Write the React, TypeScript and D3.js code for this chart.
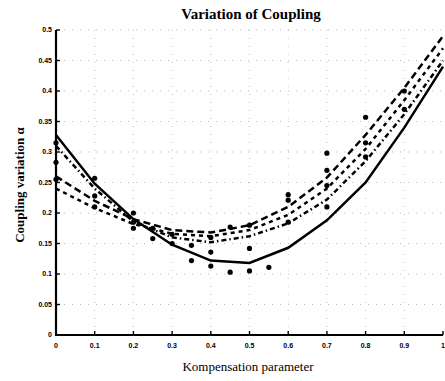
import * as d3 from "d3";

const W = 445;
const H = 381;

// parameter values along the x axis
const kompParam = [0, 0.1, 0.2, 0.3, 0.4, 0.5, 0.6, 0.7, 0.8, 0.9, 1.0];

// fitted curves
const fitSolid = [0.328, 0.248, 0.19, 0.148, 0.122, 0.118, 0.143, 0.188, 0.25, 0.34, 0.44];
const fitLongDash = [0.26, 0.22, 0.19, 0.172, 0.168, 0.18, 0.21, 0.258, 0.328, 0.405, 0.49];
const fitShortDash = [0.24, 0.208, 0.182, 0.166, 0.162, 0.172, 0.197, 0.24, 0.305, 0.385, 0.47];
const fitDashDot = [0.31, 0.24, 0.186, 0.16, 0.152, 0.162, 0.183, 0.222, 0.285, 0.362, 0.45];

// measured points
const measX = [
  0, 0, 0,
  0.1, 0.1, 0.1,
  0.2, 0.2, 0.2,
  0.25, 0.25,
  0.3, 0.3,
  0.35, 0.35,
  0.4, 0.4, 0.4,
  0.45, 0.45,
  0.5, 0.5, 0.5,
  0.55,
  0.6, 0.6, 0.6,
  0.7, 0.7, 0.7, 0.7,
  0.8, 0.8, 0.8,
  0.9, 0.9,
];
const measY = [
  0.315, 0.283, 0.255,
  0.257, 0.228, 0.21,
  0.2, 0.185, 0.175,
  0.175, 0.158,
  0.15, 0.165,
  0.147, 0.122,
  0.136, 0.113, 0.16,
  0.103, 0.177,
  0.105, 0.142, 0.18,
  0.111,
  0.23, 0.221, 0.185,
  0.298, 0.27, 0.245, 0.21,
  0.357, 0.315, 0.292,
  0.4, 0.37,
];

const xTicks = [0, 0.1, 0.2, 0.3, 0.4, 0.5, 0.6, 0.7, 0.8, 0.9, 1];
const yTicks = [0, 0.05, 0.1, 0.15, 0.2, 0.25, 0.3, 0.35, 0.4, 0.45, 0.5];

const titleText = "Variation of Coupling";
const xLabel = "Kompensation parameter";
const yLabel = "Coupling variation α";

export default function App() {
  const x = d3.scaleLinear().domain([0, 1]).range([56, 443]);
  const y = d3.scaleLinear().domain([0, 0.5]).range([335, 30]);

  const line = (vals: number[]) =>
    d3
      .line<number>()
      .x((_, i) => x(kompParam[i]))
      .y((d) => y(d))(vals) ?? "";

  const curves = [
    { vals: fitSolid, dash: "none" },
    { vals: fitLongDash, dash: "7 4" },
    { vals: fitShortDash, dash: "4 4" },
    { vals: fitDashDot, dash: "5 3 1.5 3" },
  ];

  const tickFont = "'Liberation Sans', Arial, sans-serif";
  const serif = "'Liberation Serif', 'Times New Roman', serif";

  return (
    <div style={{ position: "absolute", left: 0, top: 0 }}>
      <svg width={W} height={H} style={{ display: "block", background: "#fff" }}>
        {/* dotted grid */}
        <g stroke="#aaa" strokeWidth={0.8} strokeDasharray="1 7">
          {xTicks.slice(1, -1).map((t) => (
            <line key={"gx" + t} x1={x(t)} x2={x(t)} y1={y(0)} y2={y(0.5)} />
          ))}
          {yTicks.slice(1).map((t) => (
            <line key={"gy" + t} x1={x(0)} x2={x(1)} y1={y(t)} y2={y(t)} />
          ))}
        </g>

        {/* curves */}
        {curves.map((c, i) => (
          <path
            key={i}
            d={line(c.vals)}
            fill="none"
            stroke="#000"
            strokeWidth={2.5}
            strokeDasharray={c.dash}
          />
        ))}

        {/* measurements */}
        {measX.map((mx, i) => (
          <circle key={i} cx={x(mx)} cy={y(measY[i])} r={2.6} fill="#000" />
        ))}

        {/* axes */}
        <line x1={x(0)} x2={x(0)} y1={y(0) + 1} y2={y(0.5)} stroke="#000" strokeWidth={2.2} />
        <line x1={x(0)} x2={x(1)} y1={y(0)} y2={y(0)} stroke="#000" strokeWidth={2} />
        {yTicks.map((t) => (
          <g key={"yt" + t}>
            <line x1={x(0)} x2={x(0) + 4} y1={y(t)} y2={y(t)} stroke="#000" strokeWidth={1.4} />
            <text
              x={x(0) - 4}
              y={y(t)}
              dy="0.35em"
              textAnchor="end"
              fontFamily={tickFont}
              fontWeight="bold"
              fontSize={7}
            >
              {d3.format("~g")(t)}
            </text>
          </g>
        ))}
        {xTicks.map((t) => (
          <g key={"xt" + t}>
            <line x1={x(t)} x2={x(t)} y1={y(0)} y2={y(0) - 4} stroke="#000" strokeWidth={1.4} />
            <text
              x={x(t)}
              y={y(0) + 13}
              textAnchor="middle"
              fontFamily={tickFont}
              fontWeight="bold"
              fontSize={7}
            >
              {d3.format("~g")(t)}
            </text>
          </g>
        ))}

        {/* labels */}
        <text
          x={251}
          y={19}
          textAnchor="middle"
          fontFamily={serif}
          fontWeight="bold"
          fontSize={15}
        >
          {titleText}
        </text>
        <text x={248} y={371} textAnchor="middle" fontFamily={serif} fontSize={13}>
          {xLabel}
        </text>
        <text
          transform="translate(24,185) rotate(-90)"
          textAnchor="middle"
          fontFamily={serif}
          fontWeight="bold"
          fontSize={13}
        >
          {yLabel}
        </text>
      </svg>
    </div>
  );
}
